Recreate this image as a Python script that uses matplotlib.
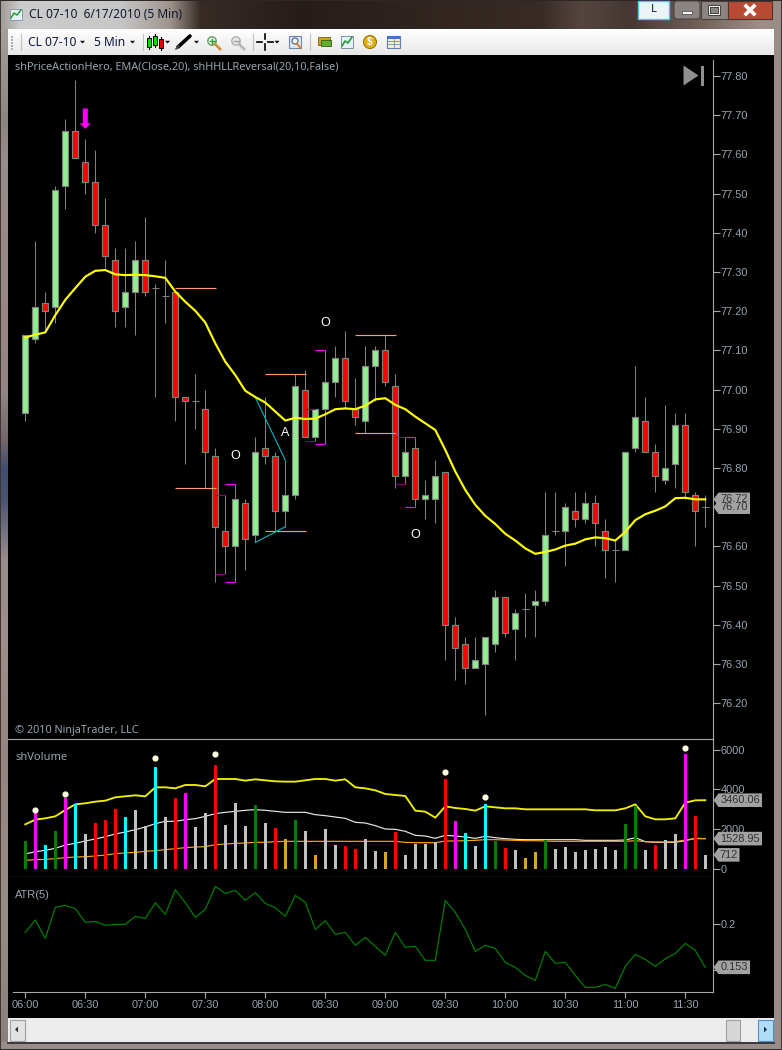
import matplotlib
matplotlib.use("Agg")
import matplotlib.pyplot as plt
import numpy as np
from matplotlib.patches import Rectangle, Polygon, FancyBboxPatch

W, H = 782, 1050
AXFONT = "Liberation Sans"
UIFONT = "Noto Sans"

# ------------------------------------------------------------------ data
opens = [76.94,77.13,77.22,77.21,77.52,77.66,77.58,77.53,77.42,77.33,77.21,77.25,77.33,77.26,77.24,77.25,76.98,76.97,76.95,76.83,76.64,76.60,76.71,76.63,76.85,76.83,76.69,76.73,77.00,76.88,76.95,77.02,77.08,76.95,76.92,77.06,77.10,77.01,76.78,76.85,76.72,76.72,76.79,76.40,76.35,76.29,76.30,76.35,76.47,76.39,76.44,76.45,76.46,76.64,76.64,76.69,76.67,76.71,76.64,76.59,76.59,76.85,76.92,76.84,76.77,76.81,76.91,76.73,76.70]
highs = [77.14,77.38,77.25,77.52,77.69,77.79,77.64,77.61,77.49,77.36,77.36,77.38,77.44,77.27,77.33,77.25,76.98,77.04,77.00,76.85,76.73,76.76,76.72,76.88,76.98,76.84,76.82,77.04,77.05,76.95,77.10,77.11,77.15,77.03,77.11,77.11,77.14,77.04,76.88,76.88,76.77,76.82,76.79,76.42,76.37,76.37,76.37,76.49,76.47,76.44,76.48,76.49,76.74,76.74,76.71,76.74,76.74,76.73,76.67,76.62,76.84,77.06,76.98,76.86,76.96,76.94,76.94,76.74,76.73]
lows = [76.92,77.12,77.15,77.17,77.46,77.59,77.50,77.40,77.31,77.16,77.16,77.14,77.24,76.98,77.17,76.92,76.81,76.90,76.75,76.51,76.53,76.51,76.54,76.61,76.81,76.64,76.65,76.72,76.88,76.87,76.86,76.98,76.95,76.91,76.89,76.97,77.01,76.75,76.76,76.70,76.67,76.66,76.31,76.26,76.25,76.29,76.17,76.33,76.37,76.31,76.37,76.37,76.45,76.63,76.55,76.65,76.66,76.60,76.52,76.51,76.59,76.84,76.84,76.74,76.76,76.75,76.72,76.60,76.65]
closes = [77.14,77.21,77.20,77.51,77.66,77.59,77.53,77.42,77.34,77.20,77.25,77.33,77.25,77.26,77.24,76.98,76.97,76.97,76.84,76.65,76.60,76.72,76.62,76.84,76.83,76.69,76.73,77.01,76.88,76.95,77.02,77.08,76.97,76.93,77.06,77.10,77.02,76.78,76.84,76.72,76.73,76.78,76.40,76.34,76.29,76.31,76.37,76.47,76.38,76.43,76.44,76.46,76.63,76.64,76.70,76.67,76.71,76.66,76.59,76.59,76.84,76.93,76.84,76.78,76.80,76.91,76.74,76.69,76.70]
ema = [77.133,77.140,77.146,77.190,77.229,77.259,77.288,77.303,77.305,77.294,77.292,77.293,77.292,77.289,77.285,77.250,77.224,77.201,77.171,77.118,77.071,77.037,76.997,76.981,76.967,76.944,76.921,76.928,76.925,76.926,76.937,76.950,76.952,76.950,76.959,76.975,76.978,76.961,76.950,76.931,76.914,76.897,76.846,76.791,76.744,76.706,76.678,76.657,76.632,76.615,76.595,76.581,76.586,76.592,76.602,76.607,76.618,76.623,76.621,76.615,76.637,76.667,76.682,76.691,76.702,76.723,76.724,76.720,76.720]

volume = [1409,2851,1207,1912,3555,3253,1761,2314,2465,3019,2616,2968,2163,5132,2616,3572,3824,2113,2817,5232,2214,3320,2163,3220,2314,2063,1509,2465,1912,704,2012,1207,1157,1006,1509,906,855,1861,704,1258,1258,1342,4528,2415,1811,1157,3270,1409,1057,956,553,855,1459,1006,1107,855,956,1006,1107,956,2264,3170,956,1207,1459,1761,5786,2666,712]
volume_kind = "g m c g m c s r r r c s s c s r m s s r s s s g s r o g s o s s r r s s o r s s s s r m c s c g r s o o g s s s s s s s g g s r s s m r s".split()
vol_upper = [2247,2482,2549,2650,2968,3253,3304,3388,3438,3606,3656,3706,3656,4109,4109,4058,4226,4226,4159,4528,4528,4528,4444,4511,4461,4411,4394,4394,4461,4528,4528,4444,4511,4109,4058,3958,3773,3723,3673,2935,2884,2583,3153,3069,3019,2935,3153,3102,3052,3052,3002,3002,3002,3002,3002,3002,3002,2952,2952,2952,3052,3253,2650,2499,2499,2549,3337,3455,3460.06]
vol_mid = [755,872,939,1040,1207,1291,1409,1509,1627,1761,1861,1979,2113,2281,2398,2398,2482,2532,2650,2784,2851,2901,2952,2985,2952,2901,2851,2851,2851,2734,2683,2616,2549,2348,2314,2180,2012,1996,1895,1694,1660,1543,1694,1660,1610,1543,1643,1576,1526,1493,1476,1476,1476,1476,1476,1476,1442,1442,1442,1442,1459,1576,1375,1342,1342,1342,1425,1543,1528.95]
vol_low = [436,470,486,520,570,604,620,654,704,771,805,839,889,922,973,1023,1073,1107,1124,1224,1258,1291,1308,1342,1342,1375,1392,1392,1392,1392,1392,1392,1392,1392,1392,1392,1392,1392,1342,1325,1325,1325,1409,1409,1425,1442,1476,1476,1459,1442,1425,1425,1409,1392,1392,1392,1392,1392,1392,1392,1392,1425,1375,1358,1358,1375,1459,1526,1529]
dot_bars = [1,4,13,19,42,46,66]
dot_values = [2968,3773,5584,5786,4880,3622,6087]

atr = [.1907,.2040,.1842,.2176,.2198,.2162,.2014,.2025,.1982,.1993,.1993,.2079,.2057,.2226,.2101,.2366,.2226,.2068,.2154,.2402,.2327,.2359,.2251,.2334,.2219,.2172,.2079,.2305,.2230,.1939,.2032,.1885,.1907,.1767,.1853,.1756,.1659,.1907,.1745,.1756,.1605,.1605,.2251,.2122,.1939,.1702,.1767,.1734,.1583,.1529,.1443,.1389,.1702,.1573,.1583,.1443,.1314,.1314,.1346,.1303,.1540,.1670,.1616,.1540,.1623,.1680,.1788,.1713,.1529]

time_labels = ["06:00","06:30","07:00","07:30","08:00","08:30","09:00","09:30","10:00","10:30","11:00","11:30"]
price_ticks = [77.80,77.70,77.60,77.50,77.40,77.30,77.20,77.10,77.00,76.90,76.80,76.70,76.60,76.50,76.40,76.30,76.20]
vol_ticks = [0,2000,4000,6000]
atr_ticks = [0.15,0.2]

# level lines: (first bar, last bar, price)
level_lines = [(15,19,77.26),(15,19,76.75),(24,28,77.04),(24,28,76.64),(33,37,77.14),(33,37,76.89)]
bracket_bright = [21,30,39]
bracket_dark = [20,29,38]
swing_lines = [((23,76.98),(26,76.82)),((23,76.61),(26,76.65))]
letters = [(21,76.83,"O"),(26,76.89,"A"),(30,77.17,"O"),(39,76.63,"O")]
reversal_bar = 6
reversal_tip = 77.665

kind_color = {"g":"#008000","m":"#ff00ff","c":"#00ffff","r":"#ff0000","s":"#c0c0c0","o":"#daa520"}

# ------------------------------------------------------------------ helpers
def px_axes(l, t, r, b, **kw):
    return fig.add_axes([l/W, 1-b/H, (r-l)/W, (b-t)/H], **kw)

fig = plt.figure(figsize=(W/100, H/100), dpi=100, facecolor="#8f8582")
LABEL = "#98a4b0"
LINE = "#a8a8a8"

# ------------------------------------------------------------------ window chrome (behind)
bg = px_axes(0, 0, W, H, zorder=0)
bg.set_xlim(0, W); bg.set_ylim(H, 0); bg.axis("off")
stops_x = [0,20,120,170,200,300,450,540,580,630,700,760,782]
stops_c = np.array([[.62,.60,.58],[.80,.80,.80],[.78,.78,.78],[.62,.58,.55],[.22,.17,.15],[.15,.11,.10],[.20,.15,.13],[.22,.17,.15],[.33,.27,.25],[.27,.22,.20],[.45,.38,.35],[.62,.56,.53],[.60,.55,.52]])
xs = np.arange(W)
title_img = np.stack([np.interp(xs, stops_x, stops_c[:,k]) for k in range(3)], axis=1)[None,:,:]
bg.imshow(title_img, extent=(0,W,29,0), aspect="auto", zorder=1)
stops_y = [29,120,160,330,390,440,470,500,560,640,760,900,1050]
stops_l = np.array([[.65,.62,.60],[.55,.52,.50],[.60,.55,.55],[.60,.52,.52],[.58,.52,.52],[.45,.40,.42],[.25,.30,.45],[.30,.33,.45],[.60,.55,.55],[.62,.56,.54],[.58,.52,.50],[.60,.55,.52],[.55,.50,.48]])
ys = np.arange(29, H)
left_img = np.stack([np.interp(ys, stops_y, stops_l[:,k]) for k in range(3)], axis=1)[:,None,:]
bg.imshow(left_img, extent=(0,8,H,29), aspect="auto", zorder=1)
bg.set_xlim(0, W); bg.set_ylim(H, 0)
bg.add_patch(Rectangle((0,0),W,1.2,fc="#2c2826",ec="none",zorder=2))
bg.add_patch(Rectangle((0,0),1.2,H,fc="#3c3634",ec="none",zorder=2))
bg.add_patch(Rectangle((780.8,0),1.2,H,fc="#3c3634",ec="none",zorder=2))
bg.add_patch(Rectangle((774,29),8,H-29,fc="#9a8c88",ec="none",zorder=1.5))
bg.add_patch(Rectangle((0,1042),W,8,fc="#9a8c88",ec="none",zorder=1.5))
bg.add_patch(Rectangle((0,1048.6),W,1.4,fc="#2c2826",ec="none",zorder=2))
bg.add_patch(Rectangle((7,1042),768,1.5,fc="#3a3a3a",ec="none",zorder=2))
bg.add_patch(Rectangle((8,55),766,963,fc="black",ec="none",zorder=2))
# toolbar
tb = np.linspace(1.0, .91, 26)[:,None,None]*np.ones((26,1,3))
bg.imshow(tb, extent=(8,774,55,29), aspect="auto", zorder=2)
bg.set_xlim(0, W); bg.set_ylim(H, 0)
for dy in (36,39,42,45,48):
    bg.add_patch(Rectangle((11,dy),2,2,fc="#b0b0b0",ec="none",zorder=3))
for sx in (20.5,143,252.5,310):
    bg.plot([sx,sx],[34,50],color="#c0c0c0",lw=.8,zorder=3)
bg.text(28,42,"CL 07-10",fontsize=8.6,family=UIFONT,color="#101840",va="center",zorder=4)
bg.text(94,42,"5 Min",fontsize=8.6,family=UIFONT,color="#101840",va="center",zorder=4)
def drop(x, y=42):
    bg.add_patch(Polygon([(x-2.5,y-1.2),(x+2.5,y-1.2),(x,y+1.5)],fc="black",ec="none",zorder=4))
for dx in (82.5,132.5,167.5,196.5,277):
    drop(dx)
for ix,iy0,iy1,c in ((149,38,47,"#00e000"),(155,36,45,"#00e000"),(161,39,48,"#e00000")):
    bg.plot([ix,ix],[iy0-2,iy1+2],color="black",lw=.8,zorder=3)
    bg.add_patch(Rectangle((ix-1.8,iy0),3.6,iy1-iy0,fc=c,ec="black",lw=.7,zorder=4))
bg.plot([178,190],[47,36],color="black",lw=2.6,zorder=4,solid_capstyle="round")
bg.plot([176,179],[49,46],color="#505050",lw=1.2,zorder=5)
for mx,c,e in ((212,"#f0fff0","#60a060"),(236,"#e8e8e8","#b0b0b0")):
    bg.add_patch(plt.Circle((mx,41),4.2,fc=c,ec=e,lw=1,zorder=4))
    bg.plot([mx+3,mx+8],[44,49],color="#d09040" if mx==212 else "#b8b8b8",lw=2,zorder=4)
bg.plot([209.5,214.5],[41,41],color="#30a030",lw=1,zorder=5)
bg.plot([212,212],[38.5,43.5],color="#30a030",lw=1,zorder=5)
bg.plot([233.5,238.5],[41,41],color="#a0a0a0",lw=1,zorder=5)
for seg in (([257,262],[42,42]),([268,273],[42,42]),([265,265],[34,39]),([265,265],[44,50])):
    bg.plot(seg[0],seg[1],color="black",lw=1.2,zorder=4)
bg.add_patch(Rectangle((289,36),12,12,fc="#dfe8f5",ec="#7088b0",lw=.8,zorder=4))
bg.add_patch(plt.Circle((295,41),3,fc="#f0f6ff",ec="#506080",lw=.8,zorder=5))
bg.plot([297,301],[44,48],color="#d08030",lw=1.4,zorder=5)
bg.add_patch(Rectangle((318,37),12,8,fc="#d0a020",ec="#806010",lw=.6,zorder=4))
bg.add_patch(Rectangle((321,40),10,6,fc="#60b030",ec="#306010",lw=.6,zorder=5))
bg.add_patch(Rectangle((341,36),12,12,fc="#e8f0f8",ec="#8090a8",lw=.7,zorder=4))
bg.plot([342,345,348,352],[46,41,43,37],color="#20a030",lw=1.2,zorder=5)
bg.add_patch(plt.Circle((370,42),6.5,fc="#e0b010",ec="#a07808",lw=.8,zorder=4))
bg.text(370,42,"$",fontsize=7,color="white",family=AXFONT,weight="bold",ha="center",va="center",zorder=5)
bg.add_patch(Rectangle((387,35.5),13,12,fc="#f4f0d0",ec="#6080b0",lw=.8,zorder=4))
bg.add_patch(Rectangle((387,35.5),13,3,fc="#4070d0",ec="none",zorder=5))
for gy in (41,44):
    bg.plot([388,399],[gy,gy],color="#7090b0",lw=.6,zorder=5)
bg.plot([393.5,393.5],[38,47],color="#7090b0",lw=.6,zorder=5)
# title bar
bg.add_patch(Rectangle((10,9),12,11,fc="#e8f0f8",ec="#8090a8",lw=.6,zorder=4))
bg.plot([11,14,17,21],[18,13,15,10],color="#20a030",lw=1.1,zorder=5)
bg.text(29,14.5,"CL 07-10  6/17/2010 (5 Min)",fontsize=8.6,family=UIFONT,color="#101830",va="center",zorder=4)
bg.add_patch(Rectangle((638,1),31,18,fc="#eef3f8",ec="#50c8e8",lw=1,zorder=4))
bg.text(653.5,10,"L",fontsize=8,family=UIFONT,color="#101840",ha="center",va="center",zorder=5)
bg.add_patch(FancyBboxPatch((674,1),26,18,boxstyle="round,pad=0,rounding_size=3",fc="#8c8480",ec="#4a4440",lw=.8,zorder=4))
bg.add_patch(Rectangle((700.5,1),27,18,fc="#8c8480",ec="#4a4440",lw=.8,zorder=4))
bg.add_patch(Rectangle((728,1),44,18,fc="#b84a34",ec="#4a3430",lw=.8,zorder=4))
bg.add_patch(Rectangle((682,10.5),10,3,fc="white",ec="#404040",lw=.5,zorder=5))
bg.add_patch(Rectangle((709,6),10,8,fc="none",ec="#303030",lw=1.8,zorder=5))
bg.add_patch(Rectangle((709,6),10,8,fc="none",ec="white",lw=.7,zorder=6))
bg.plot([746,754],[6,14],color="white",lw=2.6,zorder=5)
bg.plot([746,754],[14,6],color="white",lw=2.6,zorder=5)
# scrollbar
bg.add_patch(Rectangle((8,1018),766,24,fc="#ececec",ec="none",zorder=3))
bg.add_patch(Rectangle((9.5,1019.5),15,21,fc="#e2e2e2",ec="#a0a0a0",lw=.8,zorder=4))
bg.add_patch(Polygon([(15,1029.5),(18,1026.5),(18,1032.5)],fc="#303030",ec="none",zorder=5))
bg.add_patch(Rectangle((725.5,1019.5),14,21,fc="#d6d6d6",ec="#a0a0a0",lw=.8,zorder=4))
bg.add_patch(Rectangle((757.5,1019.5),15,21,fc="#b0dcf8",ec="#5090c0",lw=.8,zorder=4))
bg.add_patch(Polygon([(767,1029.5),(764,1026.5),(764,1032.5)],fc="#103050",ec="none",zorder=5))

# ------------------------------------------------------------------ panes
XL = (8-25.3)/10
XR = (712.7-25.3)/10
ax_p = px_axes(8, 60, 712.7, 739.3, zorder=2, facecolor="black")
ax_v = px_axes(8, 739.3, 712.7, 877.3, zorder=2, facecolor="black")
ax_a = px_axes(8, 877.3, 712.7, 992.3, zorder=2, facecolor="black")
ax_p.set_ylim(77.8-(739.3-76)/392, 77.8+16/392)
ax_v.set_ylim(-417, 6524)
ax_a.set_ylim(0.2-68.6/928, 0.2+46.4/928)

for ax in (ax_p, ax_v, ax_a):
    ax.set_xlim(XL, XR)
    for s in ax.spines.values():
        s.set_visible(False)
    ax.spines["right"].set_visible(True)
    ax.spines["right"].set_color(LINE)
    ax.spines["right"].set_linewidth(.8)
    ax.yaxis.tick_right()
    ax.tick_params(axis="y", length=5, width=.8, color=LINE, labelcolor=LABEL, labelsize=7.9, pad=.5)
    ax.set_xticks([])
    for lab in ax.get_yticklabels():
        lab.set_family(AXFONT)
ax_v.spines["top"].set_visible(True); ax_v.spines["top"].set_color(LINE); ax_v.spines["top"].set_linewidth(.8)
ax_v.spines["bottom"].set_visible(True); ax_v.spines["bottom"].set_color(LINE); ax_v.spines["bottom"].set_linewidth(.8)

# price pane
ax_p.set_yticks(price_ticks)
ax_p.set_yticklabels([f"{t:.2f}" for t in price_ticks], family=AXFONT)
BW = 0.62
n = len(opens)
bars = np.arange(n)
ax_p.vlines(bars, lows, highs, color="#808080", lw=.75, zorder=2)
for i in bars:
    o, c = opens[i], closes[i]
    if o == c:
        ax_p.hlines(o, i-.35, i+.35, color="#808080", lw=.75, zorder=3)
    else:
        ax_p.add_patch(Rectangle((i-BW/2, min(o,c)), BW, abs(c-o),
                                 fc="#90ee90" if c > o else "#ff0000", ec="#808080", lw=.85, zorder=3))
for a, b, p in level_lines:
    ax_p.hlines(p, a, b+.05, color="#ff9a70", lw=.85, zorder=4)
for i in bracket_bright:
    ax_p.hlines([highs[i], lows[i]], i-1, i, color="#ff00ff", lw=.8, zorder=4)
for i in bracket_dark:
    ax_p.hlines([highs[i], lows[i]], i-1, i, color="#800080", lw=.8, zorder=4)
for (x0,y0),(x1,y1) in swing_lines:
    ax_p.plot([x0,x1],[y0,y1],color="#00b8c0",lw=.8,zorder=4)
ax_p.plot(bars, ema, color="#ffff00", lw=1.55, zorder=5)
for i, p, s in letters:
    ax_p.text(i, p, s, color="white", fontsize=9, family=AXFONT, ha="center", va="center", zorder=6)
ax_p.annotate("", xy=(reversal_bar, reversal_tip), xytext=(reversal_bar, reversal_tip+.052),
              arrowprops=dict(width=3.6, headwidth=8, headlength=4, shrink=0, fc="#ff00ff", ec="#ff00ff", lw=0), zorder=6)
ax_p.text(15, 67, "shPriceActionHero, EMA(Close,20), shHHLLReversal(20,10,False)", color=LABEL,
          fontsize=7.85, family=UIFONT, va="center", transform=bg.transData, clip_on=False)
ax_p.text(15, 731, "© 2010 NinjaTrader, LLC", color=LABEL, fontsize=7.8, family=UIFONT, va="center", transform=bg.transData)

# volume pane
ax_v.set_yticks(vol_ticks)
ax_v.set_yticklabels([str(t) for t in vol_ticks], family=AXFONT)
ax_v.bar(bars, volume, width=.3, color=[kind_color[k] for k in volume_kind], zorder=3)
ax_v.plot(bars, vol_mid, color="#e8e8e8", lw=.85, zorder=2)
ax_v.plot(bars, vol_low, color="#ffa500", lw=.85, zorder=2.5)
ax_v.plot(bars, vol_upper, color="#eeee00", lw=1.35, zorder=2.7)
ax_v.scatter(dot_bars, dot_values, s=20, color="#fffde0", linewidths=0, zorder=4)
ax_v.text(15, 757, "shVolume", color=LABEL, fontsize=8, family=UIFONT, va="center", transform=bg.transData)

# ATR pane
ax_a.set_yticks(atr_ticks)
ax_a.set_yticklabels(["0.15","0.2"], family=AXFONT)
ax_a.plot(bars, atr, color="#008000", lw=.85, zorder=3)
ax_a.text(15, 895, "ATR(5)", color=LABEL, fontsize=8, family=AXFONT, va="center", transform=bg.transData)
ax_a.spines["bottom"].set_visible(True)
ax_a.spines["bottom"].set_color(LINE)
ax_a.spines["bottom"].set_linewidth(.8)
ax_a.spines["bottom"].set_bounds((12.7-25.3)/10, XR)
ax_a.set_xticks(np.arange(len(time_labels))*6)
ax_a.set_xticklabels(time_labels, family=AXFONT)
ax_a.tick_params(axis="x", length=4.3, width=.8, color=LINE, labelcolor=LABEL, labelsize=7.9, pad=1.6)

# ------------------------------------------------------------------ overlay: last-value flags, jump icon
top = px_axes(0, 0, W, H, zorder=5)
top.set_xlim(0, W); top.set_ylim(H, 0); top.axis("off"); top.patch.set_alpha(0)
fig.canvas.draw()
def flag(ax, value, text, right):
    y = H - ax.transData.transform((0, value))[1]
    x0 = 713.5
    top.add_patch(Polygon([(x0,y),(x0+5,y-6.8),(right,y-6.8),(right,y+6.8),(x0+5,y+6.8)],
                          fc="#a2a2a2", ec="none", zorder=2))
    top.text(right-2, y, text, color="#303030", fontsize=7.9, family=AXFONT, ha="right", va="center", zorder=3)
flag(ax_p, closes[-1]+.02, "76.72", 750)
flag(ax_p, closes[-1], "76.70", 750)
flag(ax_v, vol_upper[-1], "3460.06", 762)
flag(ax_v, vol_mid[-1], "1528.95", 762)
flag(ax_v, volume[-1], "712", 739.5)
flag(ax_a, atr[-1]+.0001, "0.153", 750)
top.add_patch(Polygon([(683.5,65.5),(698.5,75.5),(683.5,85.5)], fc="#909090", ec="none"))
top.add_patch(Rectangle((700.5,65.5),3.5,20, fc="#909090", ec="none"))

fig.savefig("out.png", dpi=100, facecolor=fig.get_facecolor())
